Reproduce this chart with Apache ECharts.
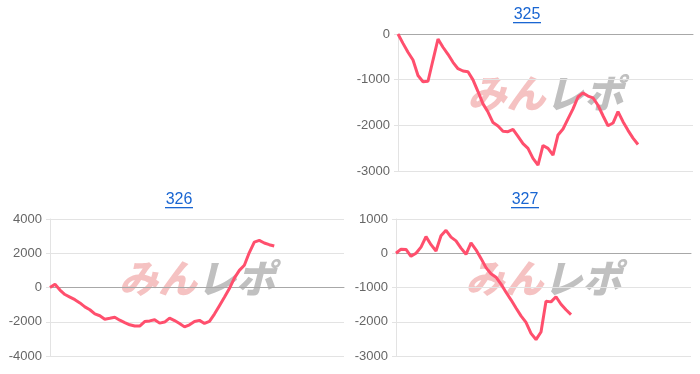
<!DOCTYPE html>
<html><head><meta charset="utf-8">
<script src="https://cdn.jsdelivr.net/npm/echarts@6/dist/echarts.min.js"></script>
<style>html,body{margin:0;padding:0;background:#fff}#c{width:700px;height:374px}</style>
</head><body><div id="c"></div>
<script>
// Shared x categories (game steps)
var steps = [];
for (var k = 0; k < 60; k++) steps.push(String(k));

var titles = ['325', '326', '327'];

var diff325 = [0,-205,-400,-570,-910,-1045,-1035,-570,-110,-290,-445,-620,-760,-810,-825,-1005,-1260,-1530,-1710,-1940,-2015,-2130,-2140,-2090,-2240,-2400,-2505,-2725,-2870,-2440,-2505,-2650,-2210,-2080,-1860,-1640,-1380,-1290,-1360,-1400,-1560,-1790,-2010,-1950,-1700,-1920,-2110,-2280,-2420];
var diff326 = [0,190,-150,-410,-560,-710,-900,-1130,-1300,-1540,-1650,-1850,-1800,-1740,-1910,-2050,-2180,-2250,-2250,-1990,-1950,-1880,-2080,-2020,-1790,-1930,-2100,-2300,-2180,-1990,-1920,-2100,-1980,-1550,-1060,-570,-60,550,1000,1300,2040,2650,2750,2600,2500,2420];
var diff327 = [0,120,110,-90,0,180,485,250,65,510,670,470,360,150,-30,300,100,-150,-420,-600,-700,-900,-1140,-1360,-1600,-1830,-2020,-2340,-2520,-2300,-1400,-1420,-1270,-1490,-1650,-1790];

var yMin = [-3000, -4000, -3000];
var yMax = [0, 4000, 1000];
var yStep = [1000, 2000, 1000];

var grids = [
  {left: 398, right: 7, top: 34, height: 137},
  {left: 50, right: 356, top: 219, height: 137},
  {left: 396, right: 9, top: 219, height: 137}
];
var series = [diff325, diff326, diff327];

var chart = echarts.init(document.getElementById('c'), null, {renderer: 'canvas'});
var xAxes = [], yAxes = [], ser = [], graphics = [];
var titlePos = [[527, 15], [179, 200], [525, 200]];

for (var i = 0; i < 3; i++) {
  xAxes.push({
    type: 'category', gridIndex: i, data: steps, boundaryGap: false,
    axisLabel: {show: false}, axisTick: {show: false},
    axisLine: {show: true, onZero: true, lineStyle: {color: '#a8a8a8', width: 1}},
    splitLine: {show: false}
  });
  yAxes.push({
    type: 'value', gridIndex: i, min: yMin[i], max: yMax[i], interval: yStep[i],
    axisLine: {show: true, lineStyle: {color: '#e3e3e3'}},
    axisTick: {show: true, length: 4, lineStyle: {color: '#e3e3e3'}},
    axisLabel: {color: '#666', fontSize: 13, margin: 8, fontFamily: 'Liberation Sans, Arial, sans-serif',
      formatter: function (v) { return String(v); }},
    splitLine: {show: true, lineStyle: {color: '#e3e3e3', width: 1}}
  });
  ser.push({
    type: 'line', xAxisIndex: i, yAxisIndex: i, data: series[i],
    showSymbol: false, symbol: 'none', z: 5,
    lineStyle: {color: '#ff4f6d', width: 3},
    itemStyle: {color: '#ff4f6d'}
  });
  graphics.push({
    type: 'text', x: titlePos[i][0], y: titlePos[i][1], z: 10,
    style: {text: titles[i], fill: '#1a66d2', font: '16px "Liberation Sans", Arial, sans-serif', align: 'center', verticalAlign: 'middle'}
  });
  graphics.push({
    type: 'rect', z: 10,
    shape: {x: titlePos[i][0] - 14, y: titlePos[i][1] + 7, width: 28, height: 1.3},
    style: {fill: '#1a66d2'}
  });
  var g = grids[i];
  var cx = g.left + (700 - g.left - g.right) / 2;
  var cy = g.top + g.height / 2 - 9;
  graphics.push({
    type: 'text', x: cx, y: cy, z: 0, silent: true,
    style: {
      text: '{a|みん}{b|レポ}',
      align: 'center', verticalAlign: 'middle',
      rich: {
        a: {fill: 'rgba(232,120,120,0.45)', font: 'italic 900 39px "Noto Sans CJK JP", sans-serif'},
        b: {fill: 'rgba(150,150,150,0.6)', font: 'italic 900 39px "Noto Sans CJK JP", sans-serif'}
      }
    }
  });
}

chart.setOption({
  animation: false,
  backgroundColor: '#fff',
  grid: grids,
  xAxis: xAxes,
  yAxis: yAxes,
  series: ser,
  graphic: graphics
});
</script></body></html>
